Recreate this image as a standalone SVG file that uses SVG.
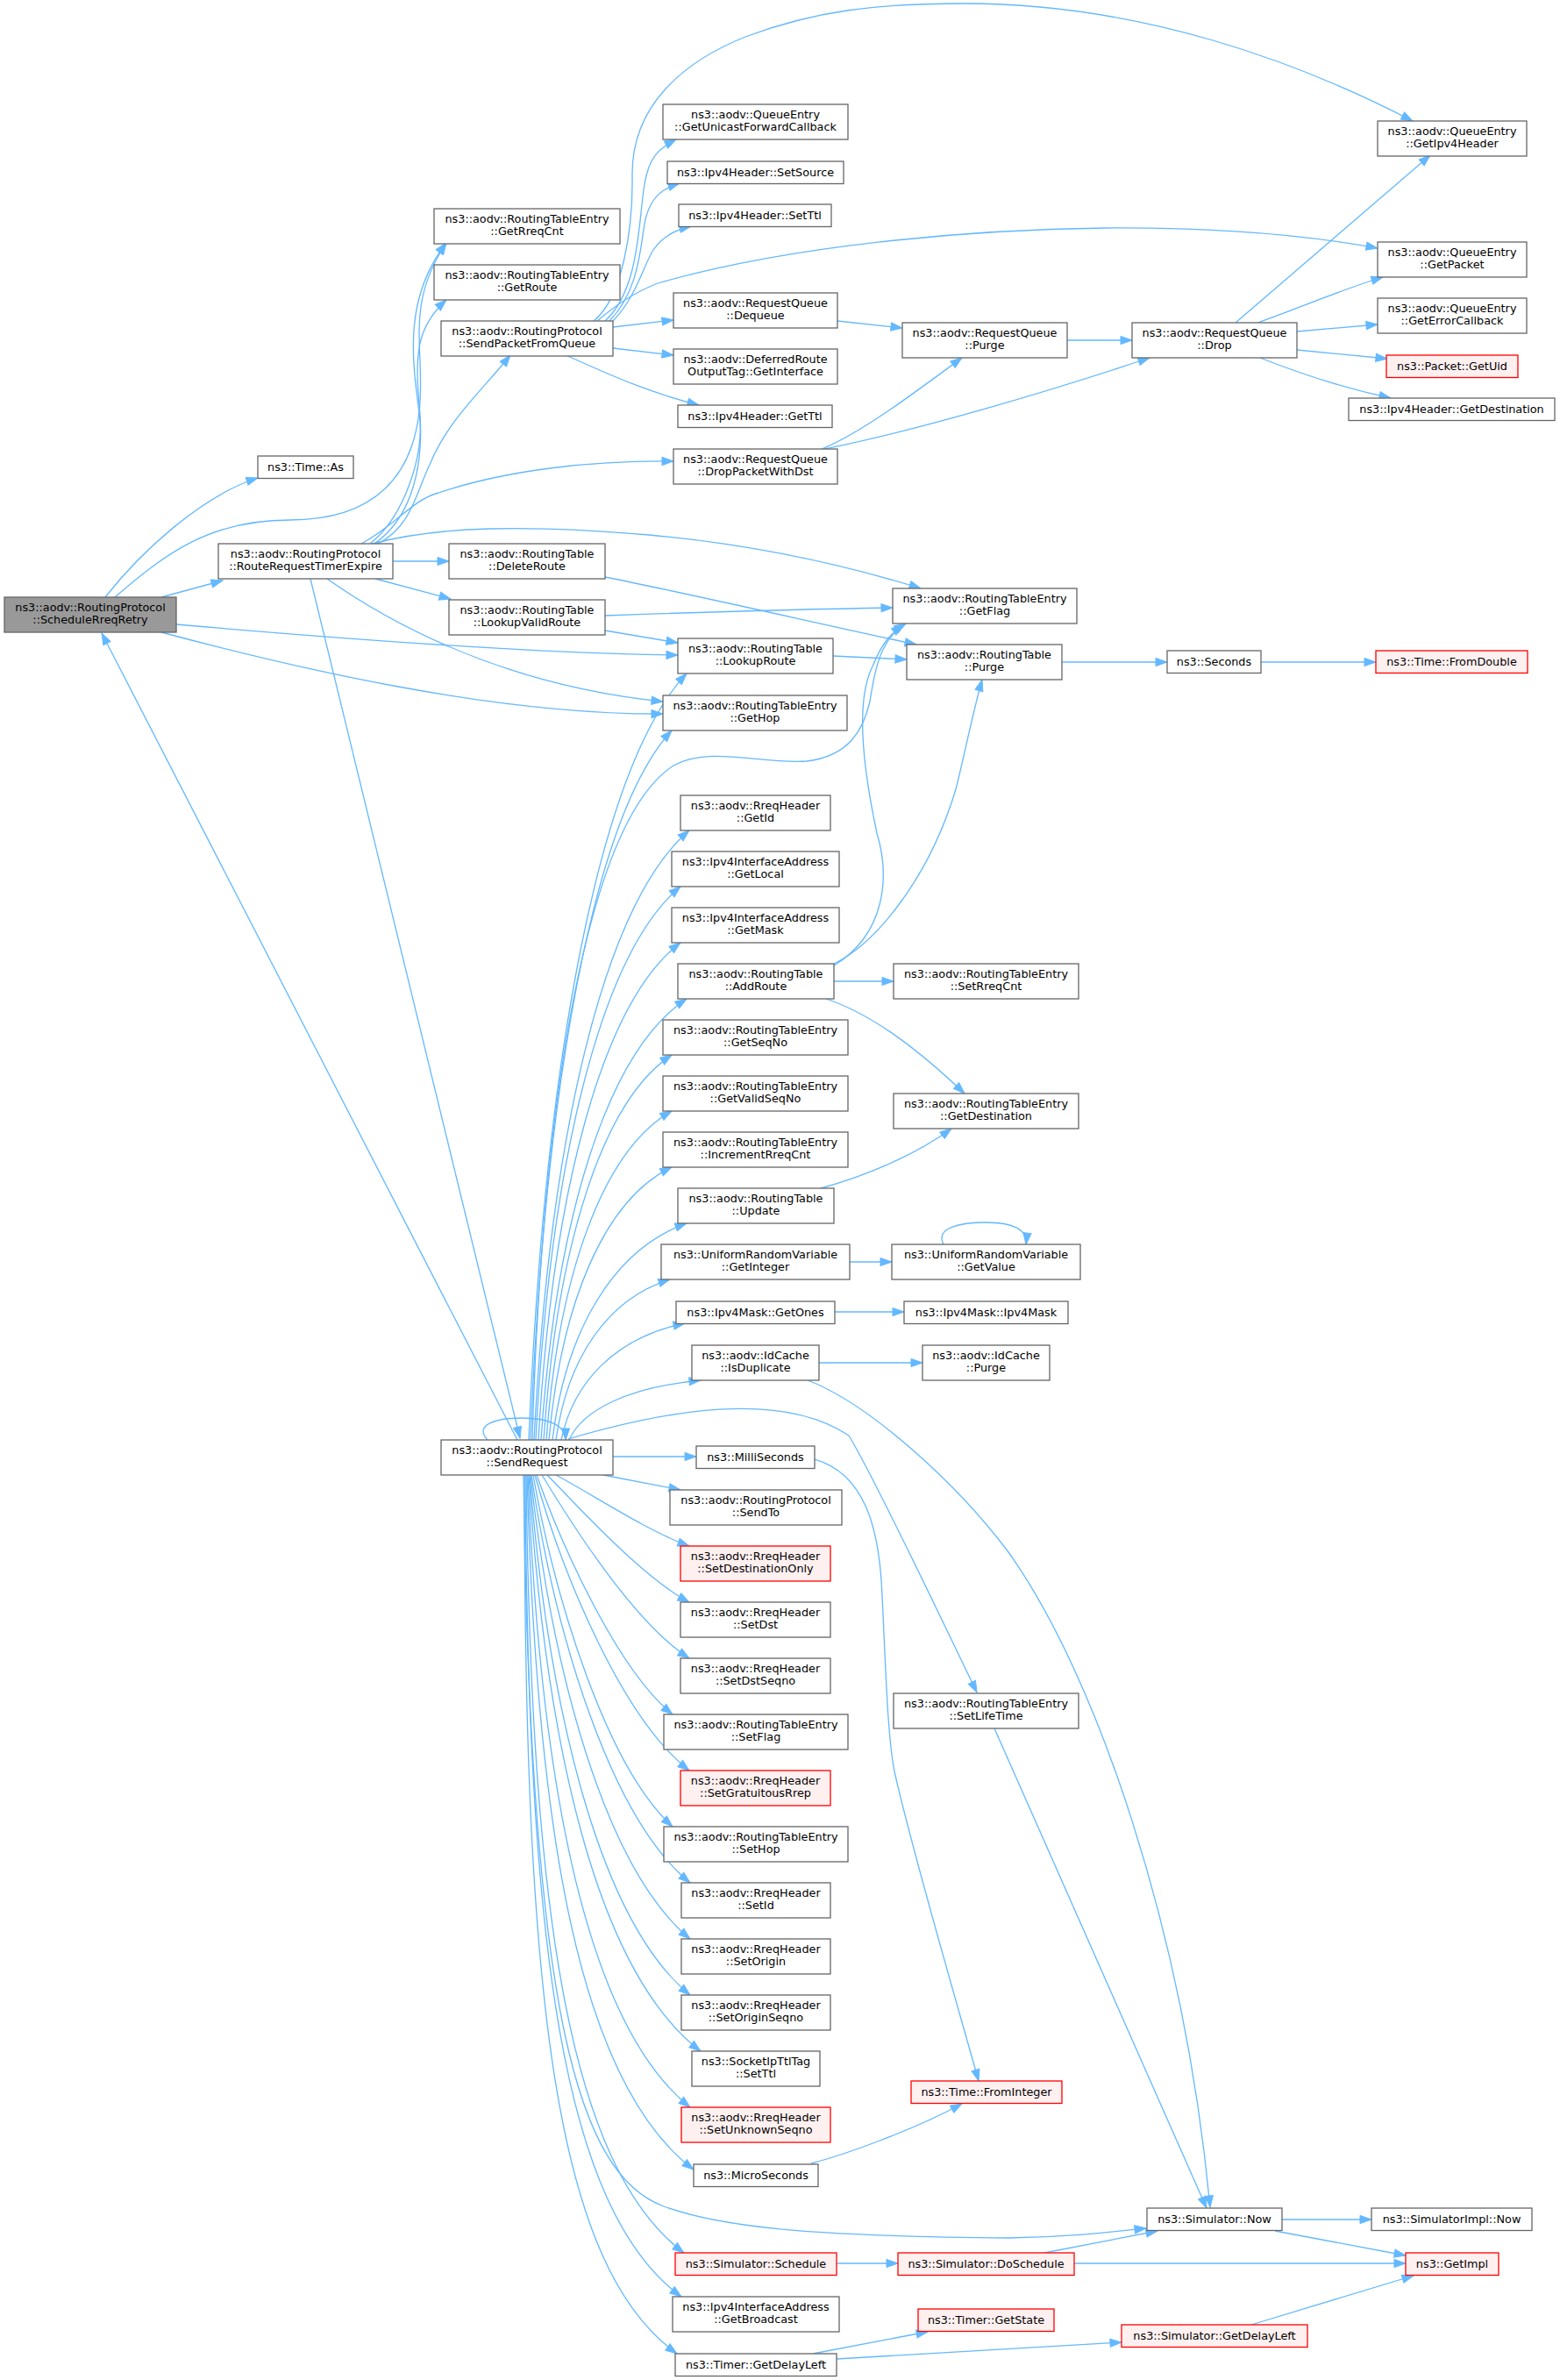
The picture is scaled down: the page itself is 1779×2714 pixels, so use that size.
<svg xmlns="http://www.w3.org/2000/svg" width="1779" height="2714" viewBox="0 0 1779 2714">
<defs>
<marker id="a" markerWidth="16" markerHeight="12" refX="13" refY="5" orient="auto" markerUnits="userSpaceOnUse" overflow="visible"><path d="M0,0.4 L13,5 L0,9.6 z" fill="#63b8ff" stroke="#63b8ff" stroke-width="1"/></marker>
</defs>
<style>
rect{fill:#ffffff;stroke:#666666;stroke-width:1.3}
.r rect{fill:#fff0f0;stroke:#ff0000}
.g rect{fill:#999999;stroke:#666666}
text{font-family:"DejaVu Sans","Liberation Sans",sans-serif;font-size:12.8px;text-anchor:middle;fill:#000000}
#edges path{fill:none;stroke:#63b8ff;stroke-width:1.3;marker-end:url(#a)}
</style>
<rect x="0" y="0" width="1779" height="2714" style="fill:#ffffff;stroke:none"/>
<g id="edges">
<path d="M120,681 C160,630 230,565 294,545"/>
<path d="M131,681 C190,630 240,593 330,593 C430,593 470,540 478,470 C486,400 460,350 509,277"/>
<path d="M184,681 L254,662"/>
<path d="M201,712 C350,725 600,745 773,747"/>
<path d="M184,721 C330,760 560,815 756,814"/>
<path d="M422,620 C460,590 485,520 478,470 C470,410 460,340 509,277"/>
<path d="M427,620 C470,590 485,530 478,460 C472,400 478,370 509,342"/>
<path d="M431,620 C470,600 475,560 490,530 C510,480 550,445 582,405"/>
<path d="M412,620 C450,600 470,570 500,562 C580,535 680,525 768,526"/>
<path d="M425,620 C500,600 600,598 740,610 C850,620 950,640 1050,671"/>
<path d="M448,640 L512,640"/>
<path d="M428,660 L514,683"/>
<path d="M373,660 C430,700 560,780 756,800"/>
<path d="M354,660 L593,1640"/>
<path d="M590,1642 L116,722"/>
<path d="M690,702 C800,698 900,695 1018,693"/>
<path d="M690,719 L773,733"/>
<path d="M690,658 C800,680 950,715 1045,735"/>
<path d="M950,748 L1034,752"/>
<path d="M677,366 C710,340 722,260 721,200 C720,120 780,70 850,42 C930,12 1000,4 1100,4 C1300,4 1480,70 1611,138"/>
<path d="M690,366 C730,330 728,250 735,210 C740,180 750,170 771,159"/>
<path d="M695,366 C730,330 730,280 736,250 C742,225 755,215 775,209"/>
<path d="M699,366 C725,340 735,300 745,285 C755,270 770,262 788,258"/>
<path d="M681,366 C700,350 720,335 750,323 C900,280 1100,262 1260,260 C1400,259 1500,270 1571,283"/>
<path d="M699,373 L768,365"/>
<path d="M699,397 L768,405"/>
<path d="M645,405 C680,420 730,445 797,462"/>
<path d="M955,366 L1029,374"/>
<path d="M937,512 C980,495 1040,450 1097,408"/>
<path d="M940,512 C1050,490 1200,445 1311,408"/>
<path d="M1217,388 L1291,388"/>
<path d="M1409,368 L1631,177"/>
<path d="M1434,368 C1480,352 1530,330 1577,316"/>
<path d="M1479,378 L1571,370"/>
<path d="M1479,399 L1582,409"/>
<path d="M1437,408 C1480,425 1530,442 1586,454"/>
<path d="M1211,755 L1331,755"/>
<path d="M1438,755 L1569,755"/>
<path d="M556,1642 C540,1625 565,1617 595,1617 C625,1617 645,1625 645,1642"/>
<path d="M603,1642 C621,1205 684,873 783,768"/>
<path d="M605,1642 C621,1237 677,930 766,833"/>
<path d="M607,1642 C620,1200 680,930 768,873 C810,850 870,872 920,868 C970,862 985,830 992,800 C998,760 1005,730 1030,713"/>
<path d="M609,1642 C627,1294 689,1030 786,947"/>
<path d="M611,1642 C627,1326 685,1087 776,1011"/>
<path d="M614,1642 C630,1358 687,1143 776,1075"/>
<path d="M617,1642 C634,1390 692,1199 783,1139"/>
<path d="M620,1642 C635,1422 686,1256 766,1203"/>
<path d="M623,1642 C637,1454 687,1312 766,1267"/>
<path d="M626,1642 C640,1486 689,1368 766,1331"/>
<path d="M630,1642 C645,1518 699,1425 783,1395"/>
<path d="M634,1642 C647,1550 692,1481 764,1459"/>
<path d="M640,1642 C654,1575 703,1525 781,1509"/>
<path d="M649,1642 C664,1608 716,1582 799,1574"/>
<path d="M699,1661 L794,1661"/>
<path d="M688,1682 C720,1688 750,1694 776,1699"/>
<path d="M634,1682 C672,1702 740,1747 786,1763"/>
<path d="M624,1682 C662,1721 733,1799 786,1827"/>
<path d="M618,1682 C655,1743 725,1852 786,1891"/>
<path d="M612,1682 C643,1769 706,1906 767,1955"/>
<path d="M610,1682 C642,1797 710,1960 786,2019"/>
<path d="M608,1682 C634,1829 693,2016 767,2083"/>
<path d="M606,1682 C633,1864 696,2073 787,2147"/>
<path d="M605,1682 C629,1903 689,2130 787,2211"/>
<path d="M604,1682 C625,1944 682,2189 787,2275"/>
<path d="M603,1682 C622,1989 680,2248 799,2339"/>
<path d="M602,1682 C616,2036 668,2308 787,2403"/>
<path d="M601,1682 C612,2093 661,2376 791,2474"/>
<path d="M600,1682 C606,2175 647,2469 780,2569"/>
<path d="M599,1682 C602,2221 641,2519 777,2619"/>
<path d="M598,1682 C598,2283 633,2584 772,2684"/>
<path d="M597,1682 C605,2300 660,2480 757,2516 C830,2543 950,2550 1150,2552 C1220,2551 1270,2545 1307,2541"/>
<path d="M648,1641 C760,1608 890,1585 968,1637 C1000,1690 1080,1860 1114,1930"/>
<path d="M951,1119 L1019,1119"/>
<path d="M942,1139 C990,1155 1040,1190 1100,1247"/>
<path d="M936,1355 C980,1343 1040,1320 1085,1287"/>
<path d="M951,1101 C1010,1065 1015,1000 1000,950 C985,880 975,800 995,760 C1005,735 1015,722 1033,711"/>
<path d="M951,1099 C1000,1075 1060,1000 1090,900 C1100,860 1110,810 1120,775"/>
<path d="M969,1439 L1017,1439"/>
<path d="M1076,1419 C1066,1400 1095,1394 1125,1394 C1155,1394 1172,1402 1170,1419"/>
<path d="M952,1496 L1031,1496"/>
<path d="M934,1554 L1052,1554"/>
<path d="M921,1574 C990,1600 1090,1690 1150,1770 C1250,1910 1350,2200 1380,2517"/>
<path d="M1134,1971 L1376,2518"/>
<path d="M929,1664 C985,1680 1003,1740 1006,1820 C1010,1900 1012,1980 1020,2020 C1040,2110 1090,2280 1116,2373"/>
<path d="M925,2467 C960,2458 1040,2430 1097,2399"/>
<path d="M954,2581 L1024,2581"/>
<path d="M1191,2569 L1320,2544"/>
<path d="M1225,2581 L1603,2581"/>
<path d="M1462,2531 L1564,2531"/>
<path d="M1454,2544 L1603,2572"/>
<path d="M1427,2651 L1612,2595"/>
<path d="M927,2684 L1058,2659"/>
<path d="M954,2690 L1279,2671"/>
</g>
<g id="n0" class="g"><rect x="5" y="681" width="196" height="40"/><text x="103" y="697">ns3::aodv::RoutingProtocol</text><text x="103" y="711.3">::ScheduleRreqRetry</text></g>
<g id="n1"><rect x="294" y="520" width="109" height="25.5"/><text x="348.5" y="536.5">ns3::Time::As</text></g>
<g id="n2"><rect x="249" y="620" width="199" height="40"/><text x="348.5" y="636">ns3::aodv::RoutingProtocol</text><text x="348.5" y="650.3">::RouteRequestTimerExpire</text></g>
<g id="n3"><rect x="495" y="238" width="212" height="40"/><text x="601" y="254">ns3::aodv::RoutingTableEntry</text><text x="601" y="268.3">::GetRreqCnt</text></g>
<g id="n4"><rect x="495" y="302" width="212" height="40"/><text x="601" y="318">ns3::aodv::RoutingTableEntry</text><text x="601" y="332.3">::GetRoute</text></g>
<g id="n5"><rect x="503" y="366" width="196" height="40"/><text x="601" y="382">ns3::aodv::RoutingProtocol</text><text x="601" y="396.3">::SendPacketFromQueue</text></g>
<g id="n6"><rect x="512" y="620" width="178" height="40"/><text x="601" y="636">ns3::aodv::RoutingTable</text><text x="601" y="650.3">::DeleteRoute</text></g>
<g id="n7"><rect x="512" y="684" width="178" height="40"/><text x="601" y="700">ns3::aodv::RoutingTable</text><text x="601" y="714.3">::LookupValidRoute</text></g>
<g id="n8"><rect x="503" y="1642" width="196" height="40"/><text x="601" y="1658">ns3::aodv::RoutingProtocol</text><text x="601" y="1672.3">::SendRequest</text></g>
<g id="n9"><rect x="756" y="119" width="211" height="40"/><text x="861.5" y="135">ns3::aodv::QueueEntry</text><text x="861.5" y="149.3">::GetUnicastForwardCallback</text></g>
<g id="n10"><rect x="761" y="184" width="201" height="25.5"/><text x="861.5" y="200.5">ns3::Ipv4Header::SetSource</text></g>
<g id="n11"><rect x="774" y="233" width="174" height="25.5"/><text x="861" y="249.5">ns3::Ipv4Header::SetTtl</text></g>
<g id="n12"><rect x="768" y="334" width="187" height="40"/><text x="861.5" y="350">ns3::aodv::RequestQueue</text><text x="861.5" y="364.3">::Dequeue</text></g>
<g id="n13"><rect x="768" y="398" width="187" height="40"/><text x="861.5" y="414">ns3::aodv::DeferredRoute</text><text x="861.5" y="428.3">OutputTag::GetInterface</text></g>
<g id="n14"><rect x="773" y="462" width="176" height="25.5"/><text x="861" y="478.5">ns3::Ipv4Header::GetTtl</text></g>
<g id="n15"><rect x="768" y="512" width="187" height="40"/><text x="861.5" y="528">ns3::aodv::RequestQueue</text><text x="861.5" y="542.3">::DropPacketWithDst</text></g>
<g id="n16"><rect x="773" y="728" width="177" height="40"/><text x="861.5" y="744">ns3::aodv::RoutingTable</text><text x="861.5" y="758.3">::LookupRoute</text></g>
<g id="n17"><rect x="756" y="793" width="210" height="40"/><text x="861" y="809">ns3::aodv::RoutingTableEntry</text><text x="861" y="823.3">::GetHop</text></g>
<g id="n18"><rect x="776" y="907" width="171" height="40"/><text x="861.5" y="923">ns3::aodv::RreqHeader</text><text x="861.5" y="937.3">::GetId</text></g>
<g id="n19"><rect x="766" y="971" width="191" height="40"/><text x="861.5" y="987">ns3::Ipv4InterfaceAddress</text><text x="861.5" y="1001.3">::GetLocal</text></g>
<g id="n20"><rect x="766" y="1035" width="191" height="40"/><text x="861.5" y="1051">ns3::Ipv4InterfaceAddress</text><text x="861.5" y="1065.3">::GetMask</text></g>
<g id="n21"><rect x="773" y="1099" width="178" height="40"/><text x="862" y="1115">ns3::aodv::RoutingTable</text><text x="862" y="1129.3">::AddRoute</text></g>
<g id="n22"><rect x="756" y="1163" width="211" height="40"/><text x="861.5" y="1179">ns3::aodv::RoutingTableEntry</text><text x="861.5" y="1193.3">::GetSeqNo</text></g>
<g id="n23"><rect x="756" y="1227" width="211" height="40"/><text x="861.5" y="1243">ns3::aodv::RoutingTableEntry</text><text x="861.5" y="1257.3">::GetValidSeqNo</text></g>
<g id="n24"><rect x="756" y="1291" width="211" height="40"/><text x="861.5" y="1307">ns3::aodv::RoutingTableEntry</text><text x="861.5" y="1321.3">::IncrementRreqCnt</text></g>
<g id="n25"><rect x="773" y="1355" width="178" height="40"/><text x="862" y="1371">ns3::aodv::RoutingTable</text><text x="862" y="1385.3">::Update</text></g>
<g id="n26"><rect x="754" y="1419" width="215" height="40"/><text x="861.5" y="1435">ns3::UniformRandomVariable</text><text x="861.5" y="1449.3">::GetInteger</text></g>
<g id="n27"><rect x="771" y="1484" width="181" height="25.5"/><text x="861.5" y="1500.5">ns3::Ipv4Mask::GetOnes</text></g>
<g id="n28"><rect x="789" y="1534" width="145" height="40"/><text x="861.5" y="1550">ns3::aodv::IdCache</text><text x="861.5" y="1564.3">::IsDuplicate</text></g>
<g id="n29"><rect x="794" y="1649" width="135" height="25.5"/><text x="861.5" y="1665.5">ns3::MilliSeconds</text></g>
<g id="n30"><rect x="764" y="1699" width="196" height="40"/><text x="862" y="1715">ns3::aodv::RoutingProtocol</text><text x="862" y="1729.3">::SendTo</text></g>
<g id="n31" class="r"><rect x="776" y="1763" width="171" height="40"/><text x="861.5" y="1779">ns3::aodv::RreqHeader</text><text x="861.5" y="1793.3">::SetDestinationOnly</text></g>
<g id="n32"><rect x="776" y="1827" width="171" height="40"/><text x="861.5" y="1843">ns3::aodv::RreqHeader</text><text x="861.5" y="1857.3">::SetDst</text></g>
<g id="n33"><rect x="776" y="1891" width="171" height="40"/><text x="861.5" y="1907">ns3::aodv::RreqHeader</text><text x="861.5" y="1921.3">::SetDstSeqno</text></g>
<g id="n34"><rect x="757" y="1955" width="210" height="40"/><text x="862" y="1971">ns3::aodv::RoutingTableEntry</text><text x="862" y="1985.3">::SetFlag</text></g>
<g id="n35" class="r"><rect x="776" y="2019" width="171" height="40"/><text x="861.5" y="2035">ns3::aodv::RreqHeader</text><text x="861.5" y="2049.3">::SetGratuitousRrep</text></g>
<g id="n36"><rect x="757" y="2083" width="210" height="40"/><text x="862" y="2099">ns3::aodv::RoutingTableEntry</text><text x="862" y="2113.3">::SetHop</text></g>
<g id="n37"><rect x="777" y="2147" width="170" height="40"/><text x="862" y="2163">ns3::aodv::RreqHeader</text><text x="862" y="2177.3">::SetId</text></g>
<g id="n38"><rect x="777" y="2211" width="170" height="40"/><text x="862" y="2227">ns3::aodv::RreqHeader</text><text x="862" y="2241.3">::SetOrigin</text></g>
<g id="n39"><rect x="777" y="2275" width="170" height="40"/><text x="862" y="2291">ns3::aodv::RreqHeader</text><text x="862" y="2305.3">::SetOriginSeqno</text></g>
<g id="n40"><rect x="789" y="2339" width="146" height="40"/><text x="862" y="2355">ns3::SocketIpTtlTag</text><text x="862" y="2369.3">::SetTtl</text></g>
<g id="n41" class="r"><rect x="777" y="2403" width="170" height="40"/><text x="862" y="2419">ns3::aodv::RreqHeader</text><text x="862" y="2433.3">::SetUnknownSeqno</text></g>
<g id="n42"><rect x="791" y="2468" width="142" height="25.5"/><text x="862" y="2484.5">ns3::MicroSeconds</text></g>
<g id="n43" class="r"><rect x="770" y="2569" width="184" height="25.5"/><text x="862" y="2585.5">ns3::Simulator::Schedule</text></g>
<g id="n44"><rect x="767" y="2619" width="190" height="40"/><text x="862" y="2635">ns3::Ipv4InterfaceAddress</text><text x="862" y="2649.3">::GetBroadcast</text></g>
<g id="n45"><rect x="770" y="2684" width="184" height="25.5"/><text x="862" y="2700.5">ns3::Timer::GetDelayLeft</text></g>
<g id="n46"><rect x="1029" y="368" width="188" height="40"/><text x="1123" y="384">ns3::aodv::RequestQueue</text><text x="1123" y="398.3">::Purge</text></g>
<g id="n47"><rect x="1018" y="671" width="210" height="40"/><text x="1123" y="687">ns3::aodv::RoutingTableEntry</text><text x="1123" y="701.3">::GetFlag</text></g>
<g id="n48"><rect x="1034" y="735" width="177" height="40"/><text x="1122.5" y="751">ns3::aodv::RoutingTable</text><text x="1122.5" y="765.3">::Purge</text></g>
<g id="n49"><rect x="1019" y="1099" width="211" height="40"/><text x="1124.5" y="1115">ns3::aodv::RoutingTableEntry</text><text x="1124.5" y="1129.3">::SetRreqCnt</text></g>
<g id="n50"><rect x="1019" y="1247" width="211" height="40"/><text x="1124.5" y="1263">ns3::aodv::RoutingTableEntry</text><text x="1124.5" y="1277.3">::GetDestination</text></g>
<g id="n51"><rect x="1017" y="1419" width="215" height="40"/><text x="1124.5" y="1435">ns3::UniformRandomVariable</text><text x="1124.5" y="1449.3">::GetValue</text></g>
<g id="n52"><rect x="1031" y="1484" width="187" height="25.5"/><text x="1124.5" y="1500.5">ns3::Ipv4Mask::Ipv4Mask</text></g>
<g id="n53"><rect x="1052" y="1534" width="145" height="40"/><text x="1124.5" y="1550">ns3::aodv::IdCache</text><text x="1124.5" y="1564.3">::Purge</text></g>
<g id="n54"><rect x="1019" y="1931" width="211" height="40"/><text x="1124.5" y="1947">ns3::aodv::RoutingTableEntry</text><text x="1124.5" y="1961.3">::SetLifeTime</text></g>
<g id="n55" class="r"><rect x="1039" y="2373" width="172" height="25.5"/><text x="1125" y="2389.5">ns3::Time::FromInteger</text></g>
<g id="n56" class="r"><rect x="1024" y="2569" width="201" height="25.5"/><text x="1124.5" y="2585.5">ns3::Simulator::DoSchedule</text></g>
<g id="n57" class="r"><rect x="1047" y="2633" width="155" height="25.5"/><text x="1124.5" y="2649.5">ns3::Timer::GetState</text></g>
<g id="n58"><rect x="1291" y="368" width="188" height="40"/><text x="1385" y="384">ns3::aodv::RequestQueue</text><text x="1385" y="398.3">::Drop</text></g>
<g id="n59"><rect x="1331" y="742" width="107" height="25.5"/><text x="1384.5" y="758.5">ns3::Seconds</text></g>
<g id="n60"><rect x="1308" y="2518" width="154" height="25.5"/><text x="1385" y="2534.5">ns3::Simulator::Now</text></g>
<g id="n61" class="r"><rect x="1279" y="2651" width="212" height="25.5"/><text x="1385" y="2667.5">ns3::Simulator::GetDelayLeft</text></g>
<g id="n62"><rect x="1571" y="138" width="170" height="40"/><text x="1656" y="154">ns3::aodv::QueueEntry</text><text x="1656" y="168.3">::GetIpv4Header</text></g>
<g id="n63"><rect x="1571" y="276" width="170" height="40"/><text x="1656" y="292">ns3::aodv::QueueEntry</text><text x="1656" y="306.3">::GetPacket</text></g>
<g id="n64"><rect x="1571" y="340" width="170" height="40"/><text x="1656" y="356">ns3::aodv::QueueEntry</text><text x="1656" y="370.3">::GetErrorCallback</text></g>
<g id="n65" class="r"><rect x="1581" y="405" width="150" height="25.5"/><text x="1656" y="421.5">ns3::Packet::GetUid</text></g>
<g id="n66"><rect x="1538" y="454" width="235" height="25.5"/><text x="1655.5" y="470.5">ns3::Ipv4Header::GetDestination</text></g>
<g id="n67" class="r"><rect x="1569" y="742" width="173" height="25.5"/><text x="1655.5" y="758.5">ns3::Time::FromDouble</text></g>
<g id="n68"><rect x="1564" y="2518" width="183" height="25.5"/><text x="1655.5" y="2534.5">ns3::SimulatorImpl::Now</text></g>
<g id="n69" class="r"><rect x="1603" y="2569" width="106" height="25.5"/><text x="1656" y="2585.5">ns3::GetImpl</text></g>
</svg>
